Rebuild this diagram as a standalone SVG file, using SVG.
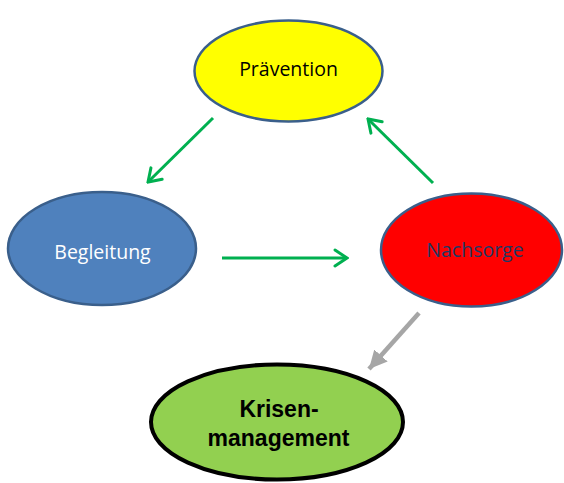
<svg xmlns="http://www.w3.org/2000/svg" width="564" height="483" viewBox="0 0 564 483">
<defs>
<style>
.node{stroke:#3A5F8B;stroke-width:2.5}
.lbl{font-family:"Open Sans","Liberation Sans",sans-serif;font-size:19.5px;text-anchor:middle}
.bold{font-family:"Liberation Sans",Arial,sans-serif;font-weight:bold;font-size:23px;text-anchor:middle;fill:#000}
.g{stroke:#00B050;stroke-width:3;fill:none}
.gr{stroke:#A6A6A6;stroke-width:4.5;fill:none}
</style>
<marker id="ag" markerUnits="userSpaceOnUse" viewBox="0 0 16 20" refX="14" refY="10" markerWidth="16" markerHeight="20" orient="auto">
<path d="M2,2 L14,10 L2,18" fill="none" stroke="#00B050" stroke-width="3" stroke-linecap="round" stroke-linejoin="miter"/>
</marker>
<marker id="agr" markerUnits="userSpaceOnUse" viewBox="0 0 18 20" refX="18" refY="10" markerWidth="18" markerHeight="20" orient="auto">
<path d="M0,1 L18,10 L0,19 Z" fill="#A6A6A6"/>
</marker>
</defs>
<rect width="564" height="483" fill="#fff"/>
<g id="connectors">
<line class="g" x1="213" y1="118" x2="148" y2="182" marker-end="url(#ag)"/>
<line class="g" x1="433" y1="183" x2="368" y2="119" marker-end="url(#ag)"/>
<line class="g" x1="222" y1="258" x2="347" y2="258" marker-end="url(#ag)"/>
<line class="gr" x1="419" y1="313" x2="369" y2="369" marker-end="url(#agr)"/>
</g>
<g id="praevention">
<ellipse class="node" cx="288.5" cy="71" rx="94" ry="50.5" fill="#FFFF00"/>
<text class="lbl" x="288.5" y="76" fill="#000">Prävention</text>
</g>
<g id="begleitung">
<ellipse class="node" cx="102" cy="248.5" rx="94" ry="56.5" fill="#4F81BD"/>
<text class="lbl" x="102.5" y="258.5" fill="#fff">Begleitung</text>
</g>
<g id="nachsorge">
<ellipse class="node" cx="471.5" cy="250" rx="90.5" ry="56.5" fill="#FF0000"/>
<text class="lbl" x="475" y="256.5" fill="#1F3864">Nachsorge</text>
</g>
<g id="krisenmanagement">
<ellipse cx="277" cy="422" rx="126" ry="57.5" fill="#92D050" stroke="#000" stroke-width="4"/>
<text class="bold" x="279" y="417">Krisen-</text>
<text class="bold" x="278.5" y="445.5">management</text>
</g>
</svg>
